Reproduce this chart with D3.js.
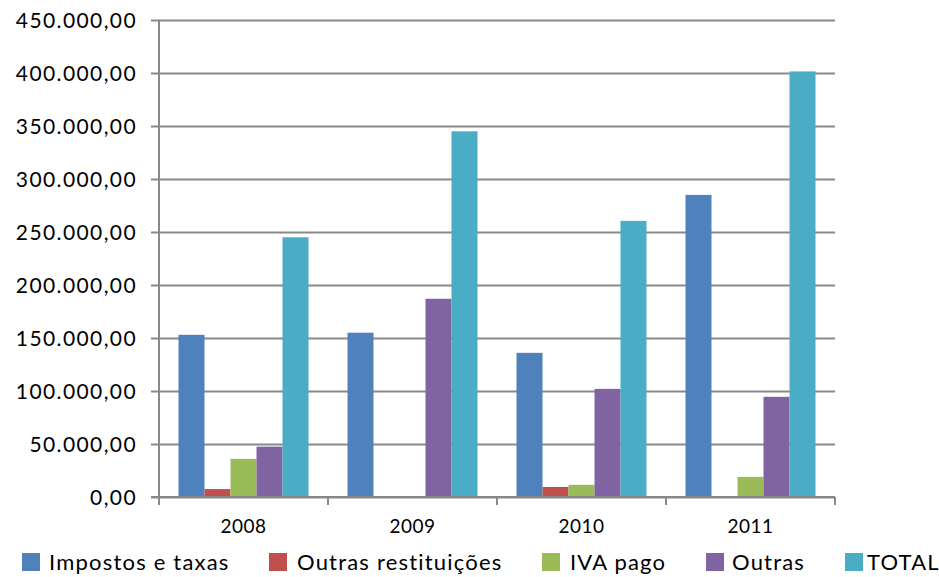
<!DOCTYPE html>
<html><head><meta charset="utf-8">
<script src="https://cdn.jsdelivr.net/npm/d3@7"></script>
<style>body{margin:0;background:#fff}svg{display:block}text{font-family:Lato,"Open Sans",sans-serif;fill:#000}</style>
</head><body><svg id="c" width="939" height="577"></svg>
<script>
const categories = ["2008","2009","2010","2011"];
const seriesNames = ["Impostos e taxas","Outras restituições","IVA pago","Outras","TOTAL"];
const seriesColors = ["#4F81BD","#C0504D","#9BBB59","#8064A2","#4BACC6"];
const impostos = [153000,155000,136000,285000];
const outrasRest = [7500,0,9500,0];
const ivaPago = [36000,0,11500,19000];
const outras = [47500,187000,102000,94500];
const total = [245000,345000,260500,401500];
const yTicks = [0,50000,100000,150000,200000,250000,300000,350000,400000,450000];

(function(){
const values = [impostos,outrasRest,ivaPago,outras,total];
const svg = d3.select("#c");
const pl=159, pr=835, pt=20, pb=497;
const x = d3.scaleBand().domain(categories).range([pl,pr]);
const xs = d3.scaleBand().domain(seriesNames).range([0,x.bandwidth()]).paddingOuter(0.75).paddingInner(0);
const y = d3.scaleLinear().domain([0,450000]).range([pb,pt]);
const fmt = v => d3.format(",.2f")(v).replace(/,/g,"#").replace(/\./g,",").replace(/#/g,".");

const yAxis = d3.axisLeft(y).tickValues(yTicks).tickSize(-(pr-pl)).tickPadding(22).tickFormat(fmt);
const gy = svg.append("g").attr("transform",`translate(${pl},0)`).call(yAxis);
gy.select(".domain").remove();
gy.selectAll(".tick line").attr("x1",-8).attr("stroke","#898989").attr("stroke-width",2);
gy.selectAll(".tick text").style("font-size","21px").style("letter-spacing","1.4px").attr("dy","0.36em");

seriesNames.forEach((s,i)=>{
  svg.append("g").selectAll("rect").data(categories).join("rect")
    .attr("x",d=>x(d)+xs(s)).attr("width",xs.bandwidth())
    .attr("y",(d,j)=>y(values[i][j])).attr("height",(d,j)=>pb-y(values[i][j]))
    .attr("fill",seriesColors[i]);
});

svg.append("line").attr("x1",pl).attr("x2",pl).attr("y1",pt).attr("y2",pb+1).attr("stroke","#898989").attr("stroke-width",2);
const gx = svg.append("g").attr("transform",`translate(0,${pb})`);
gx.append("line").attr("x1",pl-8).attr("x2",pr).attr("stroke","#898989").attr("stroke-width",2);
const bounds = categories.map(c=>x(c)).concat([pr]);
gx.selectAll("line.t").data(bounds).join("line").attr("class","t")
  .attr("x1",d=>d).attr("x2",d=>d).attr("y1",0).attr("y2",8).attr("stroke","#898989").attr("stroke-width",2);
gx.selectAll("text").data(categories).join("text")
  .attr("x",d=>x(d)+x.bandwidth()/2).attr("y",36).attr("text-anchor","middle")
  .style("font-size","19px").style("letter-spacing","0.5px").text(d=>d);

const legX = [22,269,542,706,845];
const legTX = [49,297,570,732,867];
const lg = svg.append("g");
seriesNames.forEach((s,i)=>{
  lg.append("rect").attr("x",legX[i]).attr("y",553).attr("width",18).attr("height",18).attr("fill",seriesColors[i]);
  lg.append("text").attr("x",legTX[i]).attr("y",570).style("font-size","22px").style("letter-spacing","1.2px").text(s);
});
})();
</script></body></html>
